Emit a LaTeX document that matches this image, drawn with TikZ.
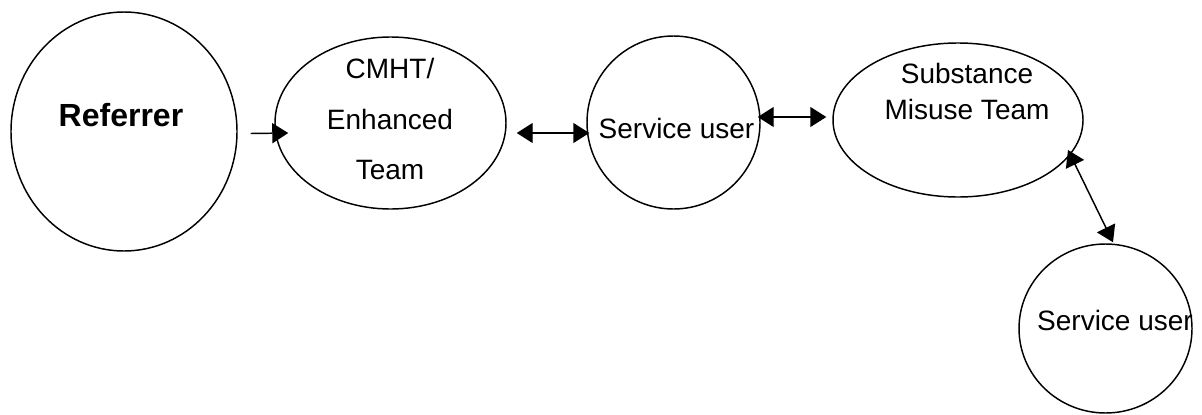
\documentclass[tikz,border=0pt]{standalone}
\usepackage{fontspec}
\setmainfont{Liberation Sans}
\usetikzlibrary{arrows.meta,shapes.geometric}
\tikzset{
  >={Triangle[length=12pt,width=15pt]},
  flow/.style={->, line width=1.1pt, draw=black},
  flowboth/.style={<->, line width=1.1pt, draw=black},
  bubble/.style={
    ellipse,
    draw=black,
    line width=1.1pt,
    inner sep=0pt
  },
  bubbletext/.style={font=\fontsize{21}{27}\selectfont, align=center, inner sep=0pt}
}
\begin{document}
\begin{tikzpicture}[x=0.75pt,y=-0.75pt]
  \useasboundingbox (0,0) rectangle (1202,414);

  \node[bubble,minimum width=169.5pt,minimum height=179.25pt] (referrer) at (124,131.5) {};
  \node[bubble,minimum width=173.25pt,minimum height=129pt] (cmht) at (390.5,123) {};
  \node[bubble,minimum width=129.75pt,minimum height=129.75pt] (user) at (673.5,122.5) {};
  \node[bubble,minimum width=187.5pt,minimum height=115.5pt] (misuse) at (958,120) {};
  \node[bubble,minimum width=129.75pt,minimum height=126.75pt] (user2) at (1105.5,328.5) {};

  \node[bubbletext,font=\fontsize{24}{29}\selectfont\bfseries] (referrertext) at (121,115) {Referrer};
  \node[bubbletext,font=\fontsize{21}{38}\selectfont] (cmhttext) at (390,119) {CMHT/\\Enhanced\\Team};
  \node[bubbletext] (usertext) at (676.5,128) {Service user};
  \node[bubbletext] (misusetext) at (967,91) {Substance\\Misuse Team};
  \node[bubbletext] (user2text) at (1115,320) {Service user};

  \draw[flow] ([shift={(13,2)}]referrer.east) -- ([shift={(14,10)}]cmht.west);
  \draw[flowboth] ([shift={(10,10)}]cmht.east) -- ([shift={(3,10.5)}]user.west);
  \draw[flowboth] ([shift={(-3,-5.5)}]user.east) -- ([shift={(-6,-3)}]misuse.west);
  \draw[flowboth] ([shift={(110,30)}]misuse.center) -- ([shift={(7.5,-1)}]user2.north);
\end{tikzpicture}
\end{document}
